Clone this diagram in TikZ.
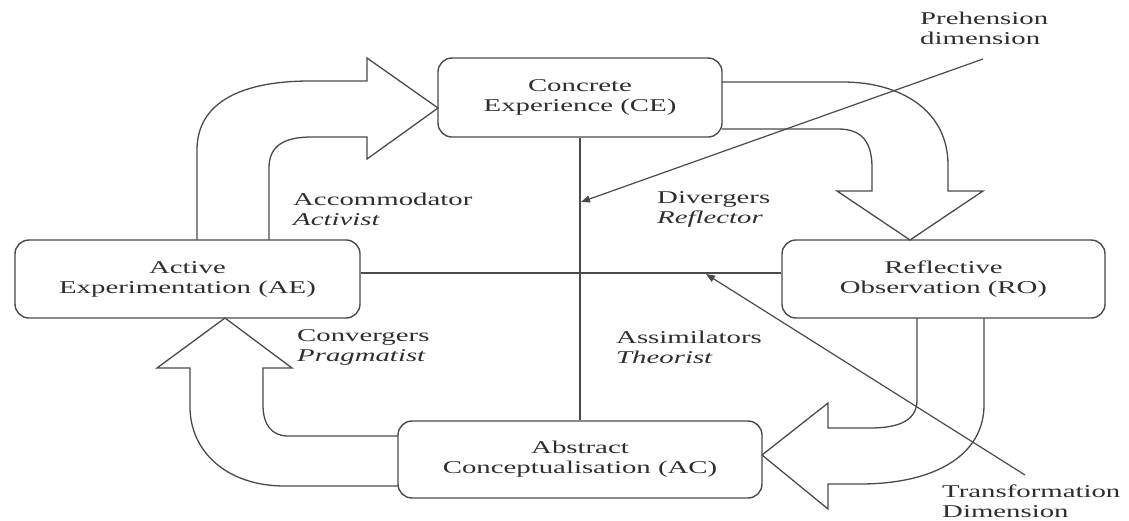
\documentclass[tikz,border=0pt]{standalone}
\usepackage{fontspec}
\setmainfont[FakeStretch=1.6]{Liberation Serif}
\usetikzlibrary{arrows.meta}
\definecolor{ink}{HTML}{2E2E2E}
\definecolor{edge}{HTML}{4A4A4A}

\begin{document}
\begin{tikzpicture}[x=1pt,y=-1pt,
  font=\fontsize{18}{20}\selectfont,
  stage/.style={draw=edge, line width=1.4pt, rounded corners=14pt, fill=white,
                align=center, text=ink, inner sep=0pt},
  flow/.style={draw=edge, line width=1.3pt, line join=miter},
  axis/.style={draw=edge, line width=1.2pt},
  pointer/.style={axis, -{Triangle[length=9pt,width=7pt]}},
  tag/.style={anchor=west, align=left, text=ink, inner sep=0pt}
]
\useasboundingbox (0,0) rectangle (1129,520);

% the four stages of the cycle
\node[stage, minimum width=284pt, minimum height=79pt] (CE) at (580,97.5) {Concrete\\Experience (CE)};
\node[stage, minimum width=345pt, minimum height=78pt] (AE) at (187.5,279) {Active\\Experimentation (AE)};
\node[stage, minimum width=323pt, minimum height=78pt] (RO) at (943.5,279) {Reflective\\Observation (RO)};
\node[stage, minimum width=364pt, minimum height=77pt] (AC) at (580,459.5) {Abstract\\Conceptualisation (AC)};

% broad curved arrows between the stages
% AE -> CE
\draw[flow] (197,240) -- (197,150) .. controls (197,102) and (242,81) .. (310,81)
  -- (367,81) -- (367,58) -- (438,108) -- (367,159) -- (367,137) -- (312,137)
  .. controls (285,137) and (269,145) .. (269,168) -- (269,240);
% CE -> RO
\draw[flow] (722,82) -- (843,82) .. controls (900,82) and (948,110) .. (948,165)
  -- (948,191) -- (983,191) -- (910,240) -- (837,191) -- (872,191) -- (872,168)
  .. controls (872,142) and (862,129) .. (838,129) -- (722,129);
% RO -> AC
\draw[flow] (917,318) -- (917,400) .. controls (917,420) and (900,428) .. (870,428)
  -- (828,428) -- (828,403) -- (762,455) -- (828,509) -- (828,484) -- (860,484)
  .. controls (935,484) and (984,455) .. (984,405) -- (984,318);
% AC -> AE
\draw[flow] (398,436) -- (288,436) .. controls (272,436) and (263,425) .. (263,405)
  -- (263,368) -- (292,368) -- (225,318) -- (157,368) -- (190,368) -- (190,407)
  .. controls (190,450) and (225,486) .. (285,486) -- (398,486);

% the two axes
\draw[axis] (CE.south) -- (AC.north);
\draw[axis] ([yshift=6pt]AE.east) -- ([yshift=6pt]RO.west);

% dimension pointers
\coordinate (phA) at (983,59);
\coordinate (phB) at (581,202);
\coordinate (tfA) at (1025,475);
\coordinate (tfB) at (706,274);
\draw[pointer] (phA) -- (phB);
\draw[pointer] (tfA) -- (tfB);

% learning styles
\node[tag] (acc) at (293,209) {Accommodator\\\textit{Activist}};
\node[tag] (div) at (657,209) {Divergers\\\textit{Reflector}};
\node[tag] (con) at (297,347) {Convergers\\\textit{Pragmatist}};
\node[tag] (ass) at (616,347) {Assimilators\\\textit{Theorist}};

% dimension labels
\node[tag] (phl) at (920,28) {Prehension\\dimension};
\node[tag] (tfl) at (942,501) {Transformation\\Dimension};
\end{tikzpicture}
\end{document}
